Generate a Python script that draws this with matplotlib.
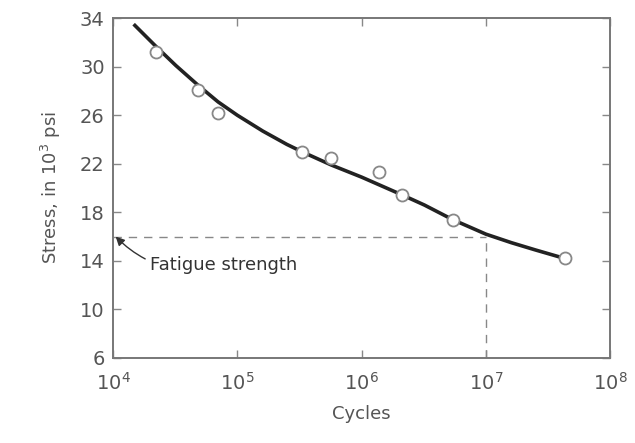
import matplotlib
matplotlib.use("Agg")
import matplotlib.pyplot as plt

# test points (cycles, stress in 10^3 psi)
test_cycles = [2.2e4, 4.8e4, 7.0e4, 3.3e5, 5.7e5, 1.38e6, 2.1e6, 5.4e6, 4.3e7]
test_stress = [31.2, 28.1, 26.2, 23.0, 22.5, 21.3, 19.4, 17.4, 14.2]

# S-N curve
curve_cycles = [1.5e4, 2.2e4, 3.2e4, 4.8e4, 7.0e4, 1.0e5, 1.6e5, 2.5e5, 3.3e5,
                5.7e5, 1.0e6, 2.1e6, 3.2e6, 5.4e6, 1.0e7, 1.6e7, 2.5e7, 4.3e7]
curve_stress = [33.4, 31.7, 30.1, 28.5, 27.1, 26.0, 24.7, 23.6, 23.0,
                21.9, 20.9, 19.45, 18.6, 17.4, 16.2, 15.5, 14.9, 14.2]

fatigue_cycles = 1e7
fatigue_stress = 16

yticks = [6, 10, 14, 18, 22, 26, 30, 34]
xticks = [1e4, 1e5, 1e6, 1e7, 1e8]

grey = "#555555"
plt.rcParams["font.family"] = "DejaVu Sans"

fig = plt.figure(figsize=(6.35, 4.43), dpi=100)
ax = fig.add_axes([0.178, 0.192, 0.783, 0.767])

ax.set_xscale("log")
ax.set_xlim(1e4, 1e8)
ax.set_ylim(6, 34)

ax.plot(curve_cycles, curve_stress, color="#222222", lw=2.6, zorder=3)
ax.scatter(test_cycles, test_stress, s=75, marker="o", facecolor="white",
           edgecolor="#888888", linewidth=1.3, zorder=4)

ax.plot([1e4, fatigue_cycles], [fatigue_stress, fatigue_stress],
        color="#888888", lw=1.0, ls=(0, (6, 5)), zorder=2)
ax.plot([fatigue_cycles, fatigue_cycles], [6, fatigue_stress],
        color="#888888", lw=1.0, ls=(0, (6, 5)), zorder=2)

ax.annotate("Fatigue strength", xy=(1.05e4, 16.0), xytext=(2.0e4, 13.7),
            fontsize=13, color="#333333", va="center",
            arrowprops=dict(arrowstyle="-|>", color="#333333", lw=1.0,
                            shrinkA=2, shrinkB=0,
                            connectionstyle="arc3,rad=-0.3"))

ax.set_yticks(yticks)
ax.set_xticks(xticks)
ax.minorticks_off()
ax.tick_params(direction="in", length=6, width=1, colors="#888888",
               labelcolor=grey, labelsize=14, top=True, right=True, pad=6)
ax.tick_params(axis="x", pad=10)
for s in ax.spines.values():
    s.set_color("#777777")
    s.set_linewidth(1.4)

ax.set_xlabel("Cycles", fontsize=13, color=grey, labelpad=8)
ax.set_ylabel("Stress, in 10$^3$ psi", fontsize=13, color=grey, labelpad=12)

fig.savefig("out.png", dpi=100)
